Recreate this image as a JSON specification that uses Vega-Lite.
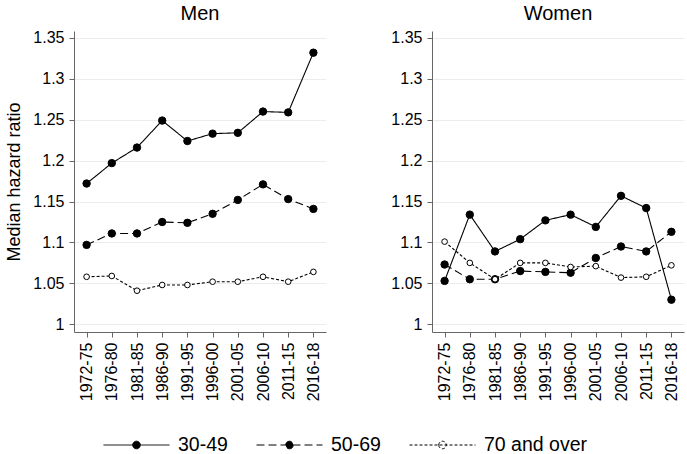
{
  "$schema": "https://vega.github.io/schema/vega-lite/v6.json",
  "padding": {"left": 5, "top": 3, "right": 2, "bottom": 0},
  "data": {
    "values": [
      {"sex": "Men", "period": "1972-75", "group": "30-49", "hr": 1.172},
      {"sex": "Men", "period": "1976-80", "group": "30-49", "hr": 1.197},
      {"sex": "Men", "period": "1981-85", "group": "30-49", "hr": 1.216},
      {"sex": "Men", "period": "1986-90", "group": "30-49", "hr": 1.249},
      {"sex": "Men", "period": "1991-95", "group": "30-49", "hr": 1.224},
      {"sex": "Men", "period": "1996-00", "group": "30-49", "hr": 1.233},
      {"sex": "Men", "period": "2001-05", "group": "30-49", "hr": 1.234},
      {"sex": "Men", "period": "2006-10", "group": "30-49", "hr": 1.26},
      {"sex": "Men", "period": "2011-15", "group": "30-49", "hr": 1.259},
      {"sex": "Men", "period": "2016-18", "group": "30-49", "hr": 1.332},
      {"sex": "Men", "period": "1972-75", "group": "50-69", "hr": 1.097},
      {"sex": "Men", "period": "1976-80", "group": "50-69", "hr": 1.111},
      {"sex": "Men", "period": "1981-85", "group": "50-69", "hr": 1.111},
      {"sex": "Men", "period": "1986-90", "group": "50-69", "hr": 1.125},
      {"sex": "Men", "period": "1991-95", "group": "50-69", "hr": 1.124},
      {"sex": "Men", "period": "1996-00", "group": "50-69", "hr": 1.135},
      {"sex": "Men", "period": "2001-05", "group": "50-69", "hr": 1.152},
      {"sex": "Men", "period": "2006-10", "group": "50-69", "hr": 1.171},
      {"sex": "Men", "period": "2011-15", "group": "50-69", "hr": 1.153},
      {"sex": "Men", "period": "2016-18", "group": "50-69", "hr": 1.141},
      {"sex": "Men", "period": "1972-75", "group": "70 and over", "hr": 1.058},
      {"sex": "Men", "period": "1976-80", "group": "70 and over", "hr": 1.059},
      {"sex": "Men", "period": "1981-85", "group": "70 and over", "hr": 1.041},
      {"sex": "Men", "period": "1986-90", "group": "70 and over", "hr": 1.048},
      {"sex": "Men", "period": "1991-95", "group": "70 and over", "hr": 1.048},
      {"sex": "Men", "period": "1996-00", "group": "70 and over", "hr": 1.052},
      {"sex": "Men", "period": "2001-05", "group": "70 and over", "hr": 1.052},
      {"sex": "Men", "period": "2006-10", "group": "70 and over", "hr": 1.058},
      {"sex": "Men", "period": "2011-15", "group": "70 and over", "hr": 1.052},
      {"sex": "Men", "period": "2016-18", "group": "70 and over", "hr": 1.064},
      {"sex": "Women", "period": "1972-75", "group": "30-49", "hr": 1.053},
      {"sex": "Women", "period": "1976-80", "group": "30-49", "hr": 1.134},
      {"sex": "Women", "period": "1981-85", "group": "30-49", "hr": 1.089},
      {"sex": "Women", "period": "1986-90", "group": "30-49", "hr": 1.104},
      {"sex": "Women", "period": "1991-95", "group": "30-49", "hr": 1.127},
      {"sex": "Women", "period": "1996-00", "group": "30-49", "hr": 1.134},
      {"sex": "Women", "period": "2001-05", "group": "30-49", "hr": 1.119},
      {"sex": "Women", "period": "2006-10", "group": "30-49", "hr": 1.157},
      {"sex": "Women", "period": "2011-15", "group": "30-49", "hr": 1.142},
      {"sex": "Women", "period": "2016-18", "group": "30-49", "hr": 1.03},
      {"sex": "Women", "period": "1972-75", "group": "50-69", "hr": 1.073},
      {"sex": "Women", "period": "1976-80", "group": "50-69", "hr": 1.055},
      {"sex": "Women", "period": "1981-85", "group": "50-69", "hr": 1.055},
      {"sex": "Women", "period": "1986-90", "group": "50-69", "hr": 1.065},
      {"sex": "Women", "period": "1991-95", "group": "50-69", "hr": 1.064},
      {"sex": "Women", "period": "1996-00", "group": "50-69", "hr": 1.063},
      {"sex": "Women", "period": "2001-05", "group": "50-69", "hr": 1.081},
      {"sex": "Women", "period": "2006-10", "group": "50-69", "hr": 1.095},
      {"sex": "Women", "period": "2011-15", "group": "50-69", "hr": 1.089},
      {"sex": "Women", "period": "2016-18", "group": "50-69", "hr": 1.113},
      {"sex": "Women", "period": "1972-75", "group": "70 and over", "hr": 1.101},
      {"sex": "Women", "period": "1976-80", "group": "70 and over", "hr": 1.075},
      {"sex": "Women", "period": "1981-85", "group": "70 and over", "hr": 1.055},
      {"sex": "Women", "period": "1986-90", "group": "70 and over", "hr": 1.075},
      {"sex": "Women", "period": "1991-95", "group": "70 and over", "hr": 1.075},
      {"sex": "Women", "period": "1996-00", "group": "70 and over", "hr": 1.07},
      {"sex": "Women", "period": "2001-05", "group": "70 and over", "hr": 1.071},
      {"sex": "Women", "period": "2006-10", "group": "70 and over", "hr": 1.057},
      {"sex": "Women", "period": "2011-15", "group": "70 and over", "hr": 1.058},
      {"sex": "Women", "period": "2016-18", "group": "70 and over", "hr": 1.072}
    ]
  },
  "spacing": 64,
  "hconcat": [
    {
      "title": "Men",
      "width": 252,
      "height": 301,
      "transform": [{"filter": "datum.sex === 'Men'"}],
      "encoding": {
        "x": {"field": "period", "type": "ordinal", "scale": {"type": "point", "padding": 0.5}, "axis": {"title": null}},
        "y": {
          "field": "hr", "type": "quantitative",
          "scale": {"domain": [0.9905, 1.3585], "zero": false, "nice": false},
          "axis": {"title": "Median hazard ratio", "values": [1, 1.05, 1.1, 1.15, 1.2, 1.25, 1.3, 1.35], "format": "~g"}
        }
      },
      "layer": [
        {
          "mark": {"type": "line", "color": "black", "strokeWidth": 1.1},
          "encoding": {
            "strokeDash": {
              "field": "group", "type": "nominal",
              "scale": {"domain": ["30-49", "50-69", "70 and over"], "range": [[1, 0], [8, 4], [3, 2]]},
              "legend": {"title": null, "symbolType": "M-1,0H1M-0.115,0A0.115,0.115,0,1,1,0.115,0A0.115,0.115,0,1,1,-0.115,0", "symbolSize": 4356}
            }
          }
        },
        {
          "transform": [{"filter": "datum.group !== '70 and over'"}],
          "mark": {"type": "point", "shape": "circle", "filled": true, "size": 55, "stroke": "black", "strokeWidth": 1, "opacity": 1},
          "encoding": {
            "fill": {
              "field": "group", "type": "nominal",
              "scale": {"domain": ["30-49", "50-69", "70 and over"], "range": ["black", "black", "white"]},
              "legend": {"title": null, "symbolType": "M-1,0H1M-0.115,0A0.115,0.115,0,1,1,0.115,0A0.115,0.115,0,1,1,-0.115,0", "symbolSize": 4356}
            }
          }
        },
        {
          "transform": [{"filter": "datum.group === '70 and over'"}],
          "mark": {"type": "point", "shape": "circle", "filled": true, "size": 32, "stroke": "black", "strokeWidth": 1, "opacity": 1},
          "encoding": {
            "fill": {
              "field": "group", "type": "nominal",
              "scale": {"domain": ["30-49", "50-69", "70 and over"], "range": ["black", "black", "white"]},
              "legend": {"title": null, "symbolType": "M-1,0H1M-0.115,0A0.115,0.115,0,1,1,0.115,0A0.115,0.115,0,1,1,-0.115,0", "symbolSize": 4356}
            }
          }
        }
      ]
    },
    {
      "title": "Women",
      "width": 252,
      "height": 301,
      "transform": [{"filter": "datum.sex === 'Women'"}],
      "encoding": {
        "x": {"field": "period", "type": "ordinal", "scale": {"type": "point", "padding": 0.5}, "axis": {"title": null}},
        "y": {
          "field": "hr", "type": "quantitative",
          "scale": {"domain": [0.9905, 1.3585], "zero": false, "nice": false},
          "axis": {"title": null, "values": [1, 1.05, 1.1, 1.15, 1.2, 1.25, 1.3, 1.35], "format": "~g"}
        }
      },
      "layer": [
        {
          "mark": {"type": "line", "color": "black", "strokeWidth": 1.1},
          "encoding": {
            "strokeDash": {
              "field": "group", "type": "nominal",
              "scale": {"domain": ["30-49", "50-69", "70 and over"], "range": [[1, 0], [8, 4], [3, 2]]},
              "legend": {"title": null, "symbolType": "M-1,0H1M-0.115,0A0.115,0.115,0,1,1,0.115,0A0.115,0.115,0,1,1,-0.115,0", "symbolSize": 4356}
            }
          }
        },
        {
          "transform": [{"filter": "datum.group !== '70 and over'"}],
          "mark": {"type": "point", "shape": "circle", "filled": true, "size": 55, "stroke": "black", "strokeWidth": 1, "opacity": 1},
          "encoding": {
            "fill": {
              "field": "group", "type": "nominal",
              "scale": {"domain": ["30-49", "50-69", "70 and over"], "range": ["black", "black", "white"]},
              "legend": {"title": null, "symbolType": "M-1,0H1M-0.115,0A0.115,0.115,0,1,1,0.115,0A0.115,0.115,0,1,1,-0.115,0", "symbolSize": 4356}
            }
          }
        },
        {
          "transform": [{"filter": "datum.group === '70 and over'"}],
          "mark": {"type": "point", "shape": "circle", "filled": true, "size": 32, "stroke": "black", "strokeWidth": 1, "opacity": 1},
          "encoding": {
            "fill": {
              "field": "group", "type": "nominal",
              "scale": {"domain": ["30-49", "50-69", "70 and over"], "range": ["black", "black", "white"]},
              "legend": {"title": null, "symbolType": "M-1,0H1M-0.115,0A0.115,0.115,0,1,1,0.115,0A0.115,0.115,0,1,1,-0.115,0", "symbolSize": 4356}
            }
          }
        }
      ]
    }
  ],
  "config": {
    "font": "Liberation Sans",
    "view": {"stroke": null},
    "title": {"fontSize": 20, "fontWeight": "normal", "offset": 6, "color": "black", "anchor": "middle"},
    "axis": {
      "labelFont": "Liberation Sans",
      "labelFontSize": 16,
      "labelColor": "black",
      "titleFont": "Liberation Sans",
      "titleFontSize": 18,
      "titleFontWeight": "normal",
      "titleColor": "black",
      "titlePadding": 9,
      "domainColor": "#666666",
      "tickColor": "#666666",
      "tickSize": 5,
      "labelPadding": 5
    },
    "axisX": {"labelAngle": -90, "grid": false},
    "axisY": {"grid": true, "gridColor": "#ececec", "gridWidth": 1},
    "legend": {
      "orient": "bottom",
      "direction": "horizontal",
      "offset": 34,
      "labelFont": "Liberation Sans",
      "labelFontSize": 19.5,
      "labelColor": "black",
      "labelOffset": 8,
      "columnPadding": 28,
      "clipHeight": 20,
      "symbolSize": 4356,
      "symbolStrokeWidth": 1,
      "symbolStrokeColor": "black",
      "layout": {"bottom": {"anchor": "middle"}}
    }
  }
}
